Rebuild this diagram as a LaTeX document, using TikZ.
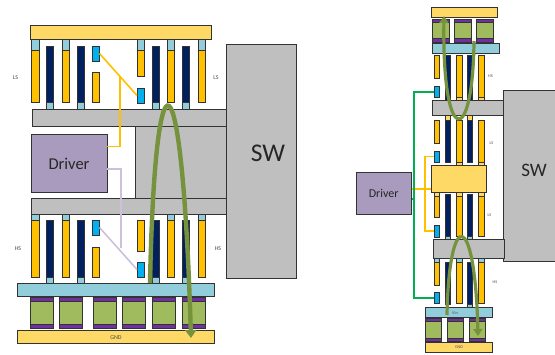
\documentclass[tikz,border=0pt]{standalone}
\usepackage{fontspec}
\setmainfont{Carlito}
\usetikzlibrary{arrows.meta}

\definecolor{finger}{HTML}{FFC000}
\definecolor{navy}{HTML}{002060}
\definecolor{gate}{HTML}{00B0F0}
\definecolor{pale}{HTML}{92CDDC}
\definecolor{gold}{HTML}{FFD966}
\definecolor{slab}{HTML}{BFBFBF}
\definecolor{plum}{HTML}{7030A0}
\definecolor{leaf}{HTML}{9FBB5E}
\definecolor{drv}{HTML}{A99BBD}
\definecolor{loopc}{HTML}{76923C}
\definecolor{wiregreen}{HTML}{00B050}
\definecolor{wirelilac}{HTML}{CCC1DA}

% x1 y1 x2 y2 in reference pixels
\newcommand{\plate}[6]{\node[#1, minimum width={(#5-(#3))*1pt}, minimum height={(#6-(#4))*1pt}] (#2) at ({(#3+#5)/2},{(#4+#6)/2}) {};}

\begin{document}
\begin{tikzpicture}[
    x=1pt, y=-1pt,
    box/.style={rectangle, draw=black!80, line width=0.8pt, inner sep=0pt, outer sep=0pt},
    yel/.style={box, fill=finger},
    nav/.style={box, fill=navy},
    gat/.style={box, fill=gate},
    tab/.style={box, fill=pale},
    bar/.style={box, fill=gold},
    slb/.style={box, fill=slab},
    pur/.style={box, fill=plum},
    grn/.style={box, fill=leaf},
    driver/.style={box, fill=drv},
    wirey/.style={finger, line width=1.6pt},
    wirev/.style={wirelilac, line width=1.6pt},
    wireg/.style={wiregreen, line width=2pt},
    loopa/.style={loopc, line width=4.4pt, -{Triangle[width=11pt,length=8pt]}},
    loopb/.style={loopc, line width=3.2pt, -{Triangle[width=9pt,length=7pt]}},
    tiny5/.style={font=\fontsize{6}{6}\selectfont, text=black!70},
    tiny3/.style={font=\fontsize{4.2}{5}\selectfont, text=black!70},
]
\useasboundingbox (0,0) rectangle (555,354);

% ---- left half ----
\plate{slb}{swL}{226}{44}{296}{278}
\plate{slb}{web}{135.5}{126.5}{226}{198}
\plate{bar}{topL}{30.5}{25}{211}{39}
\plate{slb}{railA}{32.5}{109.5}{226}{126.5}
\plate{slb}{railB}{31.5}{198}{226}{214.5}
\plate{driver}{drvL}{31.5}{134}{107}{192}

% fingers, upper
\foreach \x [count=\i] in {31.5,62,167,198} {
  \plate{tab}{ca\i}{\x}{39}{\x+7.5}{50}
  \plate{yel}{ya\i}{\x}{50}{\x+7.5}{102}
}
\plate{tab}{ca5}{137}{39}{144.5}{50}
\plate{yel}{ya5}{137}{50}{144.5}{76}
\plate{yel}{ya6}{92}{72}{99.5}{102}
\foreach \x [count=\i] in {46,77,152,182} {
  \plate{nav}{na\i}{\x}{46}{\x+7.5}{102}
  \plate{tab}{da\i}{\x}{102}{\x+7.5}{109.5}
}
\plate{gat}{gateA}{92}{46}{99.5}{61}
\plate{gat}{gateB}{137}{88}{144.5}{103}

% fingers, lower
\foreach \x [count=\i] in {31.5,62,167,198} {
  \plate{tab}{cb\i}{\x}{214.5}{\x+7.5}{220}
  \plate{yel}{yb\i}{\x}{220}{\x+7.5}{277}
}
\plate{yel}{yb5}{137}{220}{144.5}{251}
\plate{yel}{yb6}{92}{247}{99.5}{277}
\foreach \x [count=\i] in {46,77,152,182} {
  \plate{nav}{nb\i}{\x}{220}{\x+7.5}{277}
  \plate{tab}{db\i}{\x}{277}{\x+7.5}{283}
}
\plate{gat}{gateC}{92}{220}{99.5}{235}
\plate{gat}{gateD}{137}{262}{144.5}{277}

\plate{tab}{vinL}{17.5}{283}{214.5}{296.5}
\foreach \x [count=\i] in {30,59.5,93,122.5,152.5,182.5} {
  \plate{grn}{cl\i}{\x}{297}{\x+23}{328}
  \plate{pur}{pl\i}{\x}{297}{\x+23}{301.5}
  \plate{pur}{ql\i}{\x}{324}{\x+23}{328}
}
\plate{bar}{gndL}{17.5}{330}{214.5}{343}

% driver wires
\coordinate (tapA) at (120,76.7);
\coordinate (outA) at (107,146.5);
\coordinate (outB) at (107,169);
\coordinate (tapB) at (121,248);
\draw[wirey] (gateA.east) -- (gateB.west);
\draw[wirey] (outA) -| (tapA);
\draw[wirev] (gateC.east) -- (gateD.west);
\draw[wirev] (outB) -| (tapB);

% ---- right half ----
\plate{slb}{swR}{503.5}{90}{555}{261}
\plate{driver}{drvR}{356}{172}{411.5}{214}
\plate{bar}{topR}{431}{7.5}{497.5}{17}
\foreach \x [count=\i] in {432,454,476} {
  \plate{grn}{cr\i}{\x}{19}{\x+17}{42}
  \plate{pur}{pr\i}{\x}{19}{\x+17}{22.5}
  \plate{pur}{qr\i}{\x}{38}{\x+17}{42}
}
\plate{tab}{vinT}{432.5}{43.5}{499}{53.5}
\plate{slb}{railC}{432}{100}{503.5}{115}
\plate{bar}{midR}{431}{165.5}{486.5}{192}
\plate{slb}{railD}{433}{239}{504}{258}

% columns, x only
\foreach \x [count=\i] in {456.5,478.5} {
  \plate{yel}{ys\i}{\x}{55}{\x+5.5}{97}
  \plate{bar}{ts\i}{\x}{97}{\x+5.5}{100}
  \plate{yel}{yt\i}{\x}{120}{\x+5.5}{162}
  \plate{bar}{tt\i}{\x}{162}{\x+5.5}{165.5}
  \plate{bar}{tu\i}{\x}{192}{\x+5.5}{196}
  \plate{yel}{yu\i}{\x}{196}{\x+5.5}{236}
  \plate{tab}{tv\i}{\x}{258}{\x+5.5}{262}
  \plate{yel}{yv\i}{\x}{262}{\x+5.5}{303}
}
\foreach \x [count=\i] in {445,467} {
  \plate{nav}{ns\i}{\x}{55}{\x+5.5}{100}
  \plate{bar}{us\i}{\x}{115}{\x+5.5}{120}
  \plate{nav}{nt\i}{\x}{120}{\x+5.5}{162}
  \plate{nav}{nu\i}{\x}{194}{\x+5.5}{236}
  \plate{tab}{uu\i}{\x}{236}{\x+5.5}{239}
  \plate{nav}{nv\i}{\x}{262}{\x+5.5}{304}
}
\plate{tab}{uv2}{467}{304}{472.5}{307}
\plate{yel}{yw1}{434}{55}{439.5}{78}
\plate{yel}{yw2}{434}{120}{439.5}{143}
\plate{bar}{tw3}{434}{192}{439.5}{196}
\plate{yel}{yw3}{434}{196}{439.5}{217}
\plate{tab}{tw4}{434}{258}{439.5}{262}
\plate{yel}{yw4}{434}{262}{439.5}{285}
\plate{gat}{gateE}{434}{86}{439.5}{97}
\plate{gat}{gateF}{434}{151}{439.5}{162}
\plate{gat}{gateG}{434}{225}{439.5}{237}
\plate{gat}{gateH}{434}{292}{439.5}{303}

\plate{tab}{vinR}{425.5}{307}{492.5}{317.5}
\foreach \x [count=\i] in {425,447,469} {
  \plate{grn}{cs\i}{\x}{318}{\x+16.5}{341}
  \plate{pur}{ps\i}{\x}{318}{\x+16.5}{321}
  \plate{pur}{qs\i}{\x}{338}{\x+16.5}{341}
}
\plate{bar}{gndR}{425.5}{342}{492.5}{352}

% driver wires
\coordinate (outC) at (411.5,189);
\coordinate (outD) at (411.5,199);
\coordinate (railG) at (414,199);
\coordinate (railY) at (425,189);
\draw[wirey] (outC) -- (midR.west |- outC);
\draw[wirey] (gateF.west) -| (railY);
\draw[wirey] (railY) |- (gateG.west);
\draw[wireg] (outD) -- (railG);
\draw[wireg] (gateE.west) -| (railG);
\draw[wireg] (railG) |- (gateH.west);

% ---- current loops ----
\coordinate (inL) at (150,283);
\coordinate (endL) at (191,338);
\coordinate (inT) at (474,41);
\coordinate (endT) at (444,16);
\coordinate (inB) at (447,315);
\coordinate (endB) at (478,336);
\draw[loopa] (inL) .. controls (155,39) and (182,39) .. (endL);
\draw[loopb] (inT) .. controls (473,148) and (442,148) .. (endT);
\draw[loopb] (inB) .. controls (449,208) and (475,208) .. (endB);

% ---- labels ----
\node[font=\fontsize{16.5}{16.5}\selectfont, text=black!85] (txtDrvL) at (69,164) {Driver};
\node[font=\fontsize{12}{12}\selectfont, text=black!85] (txtDrvR) at (drvR) {Driver};
\node[font=\fontsize{25.5}{26}\selectfont, text=black!85] (txtSwL) at (268,153) {SW};
\node[font=\fontsize{19}{19}\selectfont, text=black!85] (txtSwR) at (534,170) {SW};
\node[tiny5] (lblA) at (15.5,77.5) {LS};
\node[tiny5] (lblB) at (216,77.5) {LS};
\node[tiny5] (lblC) at (18,248.5) {HS};
\node[tiny5] (lblD) at (218,248.5) {HS};
\node[tiny5] (lblE) at (116,338) {GND};
\node[tiny3] (lblF) at (490.5,76) {HS};
\node[tiny3] (lblG) at (491.5,143) {LS};
\node[tiny3] (lblH) at (489.5,215) {LS};
\node[tiny3] (lblI) at (495,282) {HS};
\node[tiny3] (lblJ) at (455,313) {Vin};
\node[tiny3] (lblK) at (gndR) {GND};

\end{tikzpicture}
\end{document}
